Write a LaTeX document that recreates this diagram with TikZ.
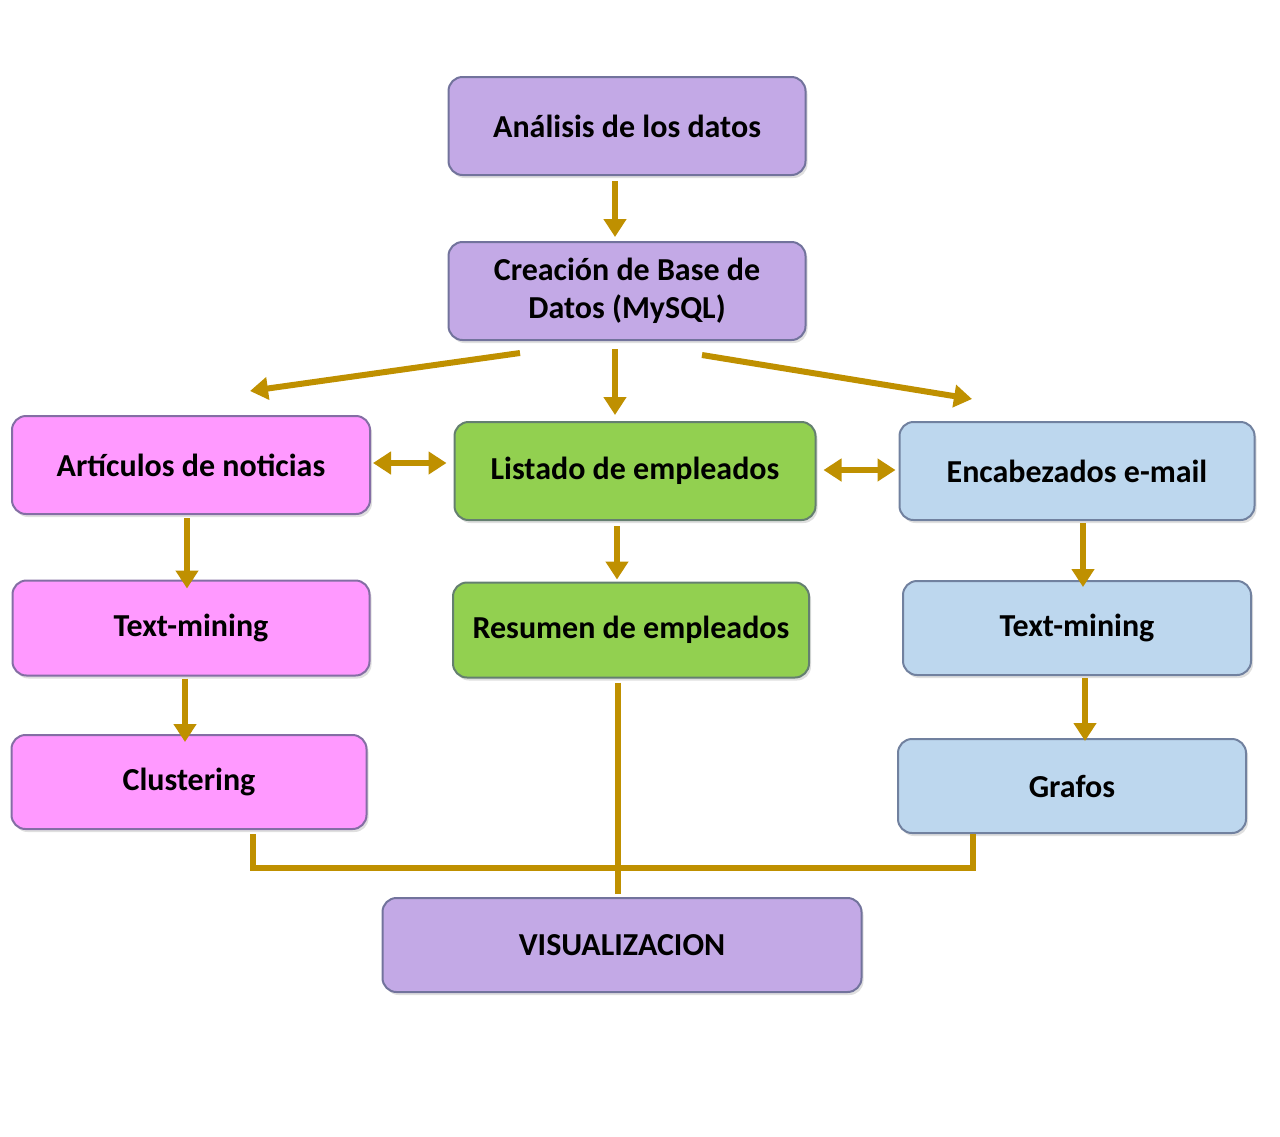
\documentclass[tikz,border=0pt]{standalone}
\usepackage{fontspec}
\setmainfont{Carlito}
\usetikzlibrary{arrows.meta,shadows}
\definecolor{lila}{RGB}{195,169,230}
\definecolor{rosa}{RGB}{255,153,255}
\definecolor{verde}{RGB}{146,208,80}
\definecolor{celeste}{RGB}{189,215,238}
\definecolor{oro}{RGB}{191,144,0}
\definecolor{borde}{RGB}{80,92,125}

\begin{document}
\begin{tikzpicture}[x=0.5pt,y=-0.5pt,
	caja/.style={fill=#1,draw=#1!30!borde,line width=1pt,rounded corners=7pt,
		inner sep=0pt,align=center,font=\bfseries\fontsize{16}{19}\selectfont,
		drop shadow={opacity=0.25,shadow xshift=1pt,shadow yshift=-1.5pt}},
	flecha/.style={draw=oro,line width=3pt,-{Triangle[width=11pt,length=9pt]}},
	doble/.style={draw=oro,line width=3pt,{Triangle[width=11pt,length=9pt]}-{Triangle[width=11pt,length=9pt]}},
	linea/.style={draw=oro,line width=3pt}]
	\useasboundingbox (0,0) rectangle (1280,1136);
	\node[caja=lila,minimum width=178.5pt,minimum height=49pt] (A) at (627,126) {Análisis de los datos};
	\node[caja=lila,minimum width=178.5pt,minimum height=49pt] (B) at (627,291) {Creación de Base de\\Datos (MySQL)};
	\node[caja=rosa,minimum width=179pt,minimum height=49pt] (Art) at (191,465) {Artículos de noticias};
	\node[caja=verde,minimum width=180.5pt,minimum height=49pt] (List) at (635,471) {Listado de empleados};
	\node[caja=celeste,minimum width=177.5pt,minimum height=49pt] (Enc) at (1077,471) {Encabezados e-mail};
	\node[caja=rosa,minimum width=178.5pt,minimum height=47.5pt] (TMa) at (191,628) {Text-mining};
	\node[caja=verde,minimum width=178pt,minimum height=47.5pt] (Res) at (631,630) {Resumen de empleados};
	\node[caja=celeste,minimum width=174pt,minimum height=47pt] (TMb) at (1077,628) {Text-mining};
	\node[caja=rosa,minimum width=177.5pt,minimum height=47pt] (Clu) at (189,782) {Clustering};
	\node[caja=celeste,minimum width=174pt,minimum height=47pt] (Gra) at (1072,786) {Grafos};
	\node[caja=lila,minimum width=239.5pt,minimum height=47pt] (Vis) at (622,945) {VISUALIZACION};

	\draw[flecha] ([shift={(-12,5)}]A.south) -- ([shift={(-12,-4)}]B.north);
	\draw[flecha] ([shift={(-107,12)}]B.south) -- ([shift={(59,-24)}]Art.north);
	\draw[flecha] ([shift={(-12,8)}]B.south) -- ([shift={(-20,-6)}]List.north);
	\draw[flecha] ([shift={(75,14)}]B.south) -- ([shift={(-105,-22)}]Enc.north);
	\draw[doble] ([shift={(2,-2)}]Art.east) -- ([shift={(-7,-8)}]List.west);
	\draw[doble] ([shift={(7,-1)}]List.east) -- ([shift={(-3,-1)}]Enc.west);
	\draw[flecha] ([shift={(-4,3)}]Art.south) -- ([shift={(-4,9)}]TMa.north);
	\draw[flecha] ([shift={(-18,5)}]List.south) -- ([shift={(-14,-2)}]Res.north);
	\draw[flecha] ([shift={(6,2)}]Enc.south) -- ([shift={(6,7)}]TMb.north);
	\draw[flecha] ([shift={(-6,2)}]TMa.south) -- ([shift={(-4,8)}]Clu.north);
	\draw[flecha] ([shift={(8,2)}]TMb.south) -- ([shift={(13,3)}]Gra.north);
	\draw[linea] ([shift={(64,4)}]Clu.south) -- ++(0,34) -| ([shift={(-99,0)}]Gra.south);
	\draw[linea] ([shift={(-13,4)}]Res.south) -- ([shift={(-4,-3)}]Vis.north);
\end{tikzpicture}
\end{document}
